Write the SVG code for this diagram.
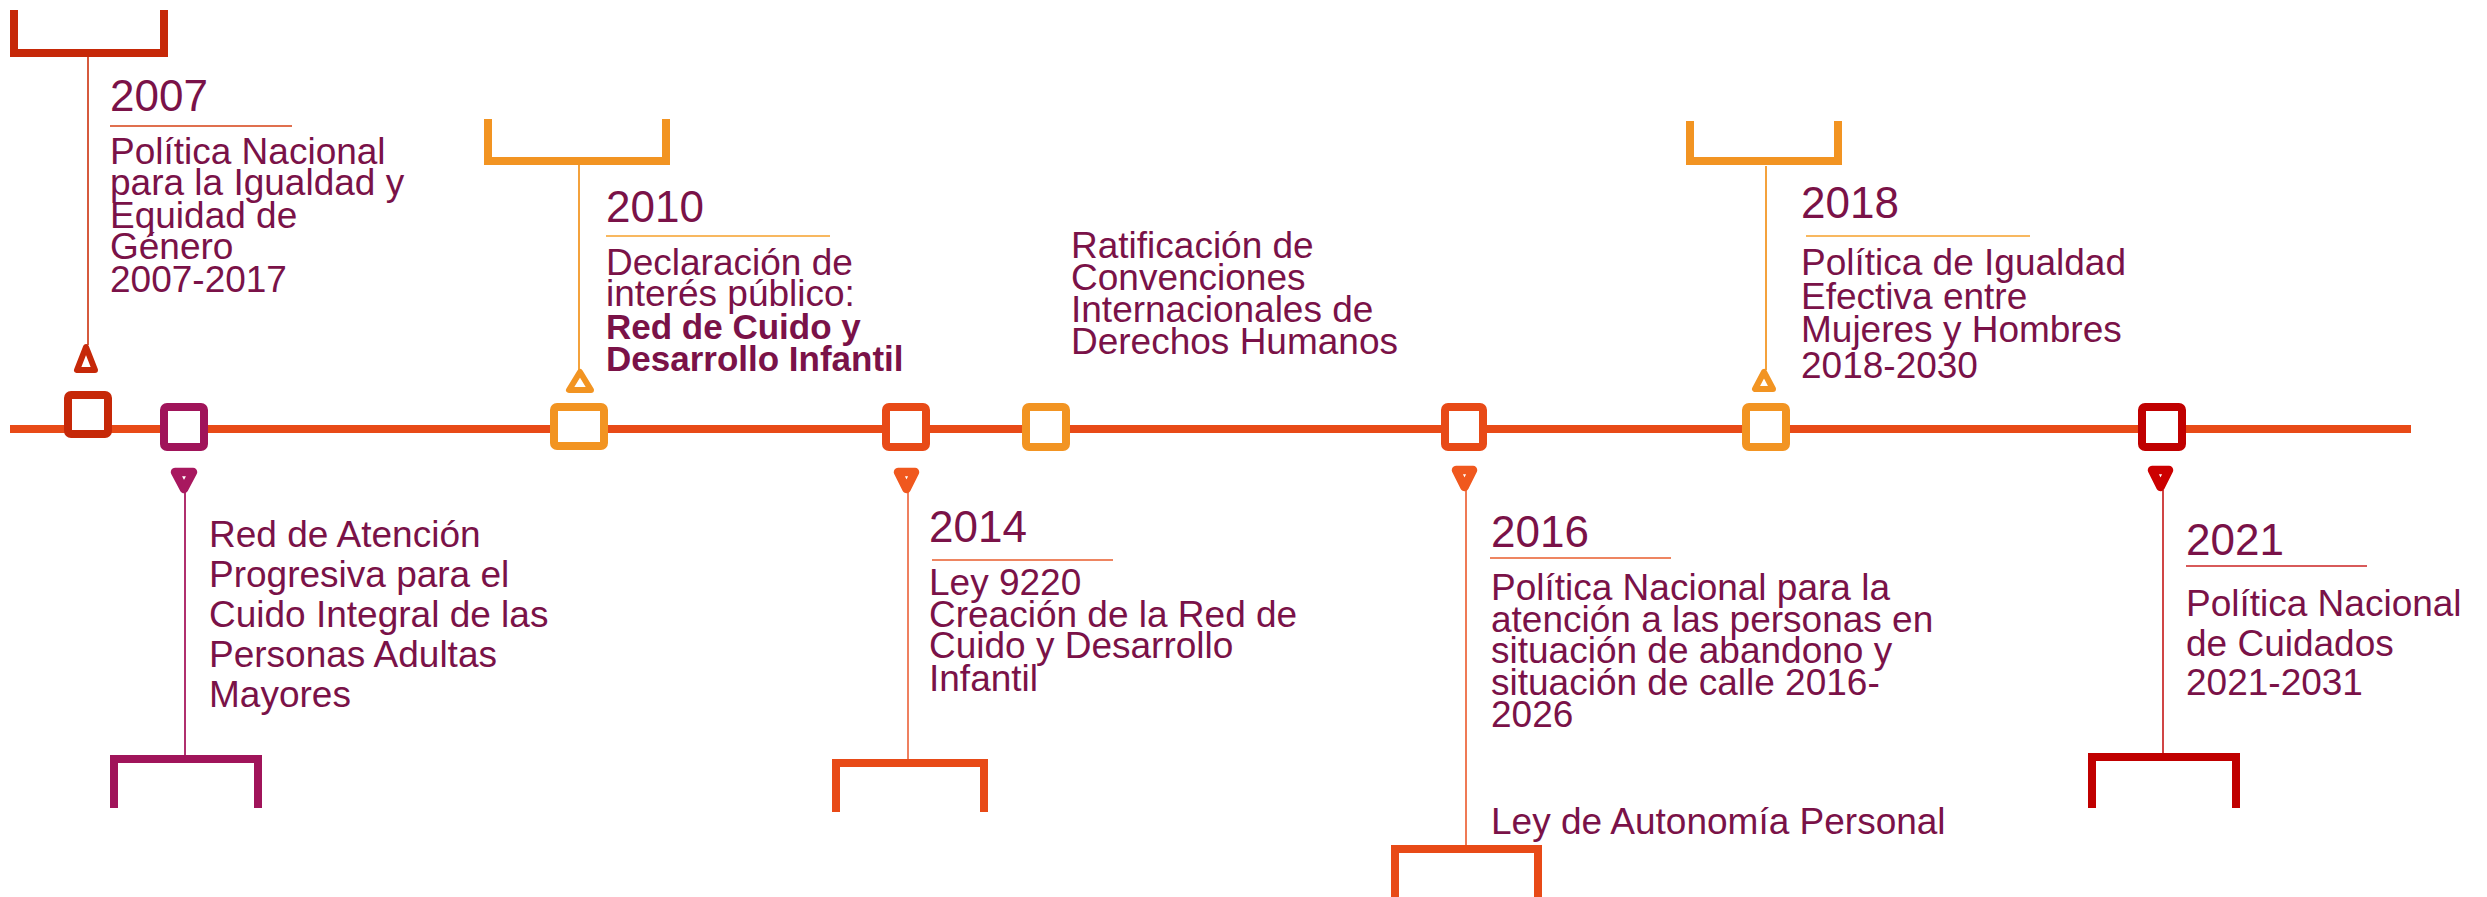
<svg xmlns="http://www.w3.org/2000/svg" width="2487" height="897" viewBox="0 0 2487 897">
<style>
text{font-family:"Liberation Sans",Arial,sans-serif;fill:#7A1248}
.yr{font-size:44px}
.bd{font-size:37px}
.bb{font-size:35px;font-weight:bold}
.sq{fill:#fff;stroke-width:8}
.br{fill:none;stroke-width:8;stroke-linejoin:miter}
.tri{fill:#fff;stroke-width:6;stroke-linejoin:round}
.trd{fill:#fff;stroke-width:8.5;stroke-linejoin:round}
.ul{stroke-width:2}
.ld{stroke-width:2;fill:none}
</style>
<rect width="2487" height="897" fill="#fff"/>
<g id="connectors">
<line x1="10" y1="429" x2="2411" y2="429" stroke="#E84A17" stroke-width="8"/>
<line class="ld" x1="88" y1="57" x2="88" y2="345" stroke="#D65A3E"/>
<line class="ld" x1="579" y1="165" x2="579" y2="371" stroke="#F4A23C"/>
<line class="ld" x1="185" y1="492" x2="185" y2="755" stroke="#B0306E"/>
<line class="ld" x1="908" y1="492" x2="908" y2="759" stroke="#EF8060"/>
<line class="ld" x1="1466" y1="490" x2="1466" y2="845" stroke="#EF7A55"/>
<line class="ld" x1="1766" y1="166" x2="1766" y2="370" stroke="#F4A23C"/>
<line class="ld" x1="2163" y1="490" x2="2163" y2="753" stroke="#D04545"/>
</g>
<g id="n2007">
<path class="br" d="M14,10 V53 H164 V10" stroke="#C62808"/>
<polygon class="tri" points="86,347 77,370 95,370" stroke="#C62808"/>
<rect class="sq" x="68" y="395" width="40" height="39" rx="3" stroke="#C62808"/>
<text class="yr" x="110" y="111">2007</text>
<line class="ul" x1="110" y1="126" x2="292" y2="126" stroke="#E0704F"/>
<text class="bd" x="110"><tspan x="110" y="164">Política Nacional</tspan><tspan x="110" y="195">para la Igualdad y</tspan><tspan x="110" y="228">Equidad de</tspan><tspan x="110" y="259">Género</tspan><tspan x="110" y="292">2007-2017</tspan></text>
</g>
<g id="nAdultos">
<rect class="sq" x="164" y="407" width="40" height="40" rx="3" stroke="#A0145A"/>
<polygon class="trd" points="175,472 193,472 184,489" stroke="#A8185F"/>
<path class="br" d="M114,808 V759 H258 V808" stroke="#A0145A"/>
<text class="bd"><tspan x="209" y="547">Red de Atención</tspan><tspan x="209" y="587">Progresiva para el</tspan><tspan x="209" y="627">Cuido Integral de las</tspan><tspan x="209" y="667">Personas Adultas</tspan><tspan x="209" y="707">Mayores</tspan></text>
</g>
<g id="n2010">
<path class="br" d="M488,119 V161 H666 V119" stroke="#F29422"/>
<polygon class="tri" points="580,372 569,390 591,390" stroke="#F29422"/>
<rect class="sq" x="554" y="407" width="50" height="39" rx="3" stroke="#F29422"/>
<text class="yr" x="606" y="222">2010</text>
<line class="ul" x1="606" y1="236" x2="830" y2="236" stroke="#F8B860"/>
<text class="bd"><tspan x="606" y="275">Declaración de</tspan><tspan x="606" y="306">interés público:</tspan></text>
<text class="bb"><tspan x="606" y="339">Red de Cuido y</tspan><tspan x="606" y="371">Desarrollo Infantil</tspan></text>
</g>
<g id="n2014">
<rect class="sq" x="886" y="407" width="40" height="40" rx="3" stroke="#E84A17"/>
<polygon class="trd" points="898,472 915,472 906.5,489" stroke="#F0581E"/>
<path class="br" d="M836,812 V763 H984 V812" stroke="#E84A17"/>
<text class="yr" x="929" y="542">2014</text>
<line class="ul" x1="932" y1="560" x2="1113" y2="560" stroke="#EE8561"/>
<text class="bd"><tspan x="929" y="595">Ley 9220</tspan><tspan x="929" y="627">Creación de la Red de</tspan><tspan x="929" y="658">Cuido y Desarrollo</tspan><tspan x="929" y="691">Infantil</tspan></text>
</g>
<g id="nRatificacion">
<rect class="sq" x="1026" y="407" width="40" height="40" rx="3" stroke="#F29422"/>
<text class="bd"><tspan x="1071" y="258">Ratificación de</tspan><tspan x="1071" y="290">Convenciones</tspan><tspan x="1071" y="322">Internacionales de</tspan><tspan x="1071" y="354">Derechos  Humanos</tspan></text>
</g>
<g id="n2016">
<rect class="sq" x="1445" y="407" width="38" height="40" rx="3" stroke="#E84A17"/>
<polygon class="trd" points="1456,470 1473,470 1464.5,487" stroke="#F0581E"/>
<path class="br" d="M1395,897 V849 H1538 V897" stroke="#E84A17"/>
<text class="yr" x="1491" y="547">2016</text>
<line class="ul" x1="1490" y1="558" x2="1671" y2="558" stroke="#EE8561"/>
<text class="bd"><tspan x="1491" y="600">Política Nacional para la</tspan><tspan x="1491" y="632">atención a las personas en</tspan><tspan x="1491" y="663">situación de abandono y</tspan><tspan x="1491" y="695">situación de calle 2016-</tspan><tspan x="1491" y="727">2026</tspan><tspan x="1491" y="834">Ley de Autonomía Personal</tspan></text>
</g>
<g id="n2018">
<path class="br" d="M1690,121 V161 H1838 V121" stroke="#F29422"/>
<polygon class="tri" points="1764,372 1755,389 1773,389" stroke="#F29422"/>
<rect class="sq" x="1746" y="407" width="40" height="40" rx="3" stroke="#F29422"/>
<text class="yr" x="1801" y="218">2018</text>
<line class="ul" x1="1806" y1="236" x2="2030" y2="236" stroke="#F8B860"/>
<text class="bd"><tspan x="1801" y="275">Política de Igualdad</tspan><tspan x="1801" y="309">Efectiva entre</tspan><tspan x="1801" y="342">Mujeres y Hombres</tspan><tspan x="1801" y="378">2018-2030</tspan></text>
</g>
<g id="n2021">
<rect class="sq" x="2142" y="407" width="40" height="40" rx="3" stroke="#C00000"/>
<polygon class="trd" points="2152,470 2169,470 2160.5,487" stroke="#CC0000"/>
<path class="br" d="M2092,808 V757 H2236 V808" stroke="#C00000"/>
<text class="yr" x="2186" y="555">2021</text>
<line class="ul" x1="2186" y1="566" x2="2367" y2="566" stroke="#D85A5A"/>
<text class="bd"><tspan x="2186" y="616">Política Nacional</tspan><tspan x="2186" y="656">de Cuidados</tspan><tspan x="2186" y="695">2021-2031</tspan></text>
</g>
</svg>
